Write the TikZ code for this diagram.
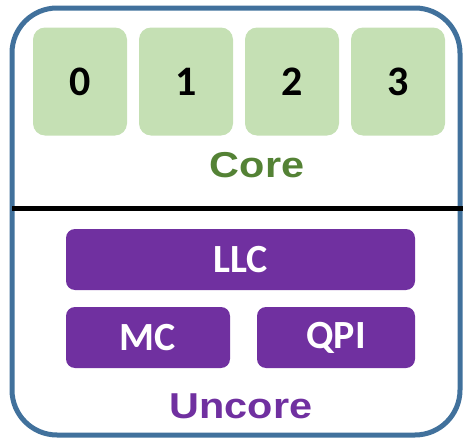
\documentclass[tikz,border=0pt]{standalone}
\usepackage{fontspec}
\setmainfont{Carlito}
\newfontfamily\arialfont{Liberation Sans}
\usetikzlibrary{positioning}

\definecolor{frameblue}{HTML}{41719C}
\definecolor{coregreen}{HTML}{C5E0B4}
\definecolor{coretext}{HTML}{548235}
\definecolor{uncorepurple}{HTML}{7030A0}

% wide bold label for the two parts
\newcommand{\partlabel}[1]{\scalebox{1.15}[1]{\arialfont\fontsize{36}{36}\selectfont\bfseries #1}}

\tikzset{
  corebox/.style={fill=coregreen, rounded corners=12pt, minimum width=94pt, minimum height=108pt, inner sep=0pt, font=\fontsize{42}{42}\selectfont\bfseries},
  unitbox/.style={fill=uncorepurple, rounded corners=9pt, minimum height=61pt, inner sep=0pt, text=white, font=\fontsize{40}{40}\selectfont\bfseries}
}

\begin{document}
\begin{tikzpicture}[x=1pt, y=-1pt]
  \useasboundingbox (0,0) rectangle (464,439);

  % Outer package outline
  \draw[frameblue, line width=5pt, rounded corners=45pt] (12,8) rectangle (460,435);

  % The four cores
  \node[corebox] (c0) at (80,81.5) {0};
  \node[corebox] (c1) at (186,81.5) {1};
  \node[corebox] (c2) at (292,81.5) {2};
  \node[corebox] (c3) at (398,81.5) {3};
  \node[text=coretext, anchor=base, inner sep=0pt] (core) at (257,177) {\partlabel{Core}};

  % Split between core and uncore
  \coordinate (sl) at (12,208);
  \coordinate (sr) at (463,208);
  \draw[line width=5pt] (sl) -- (sr);

  % Uncore units
  \node[unitbox, minimum width=349pt] (llc) at (240.5,259.5) {LLC};
  \node[unitbox, minimum width=164pt] (mc) at (148,337.5) {MC};
  \node[unitbox, minimum width=158pt] (qpi) at (336,337.5) {QPI};
  \node[text=uncorepurple, anchor=base, inner sep=0pt] (uncore) at (241,418) {\partlabel{Uncore}};

\end{tikzpicture}
\end{document}
